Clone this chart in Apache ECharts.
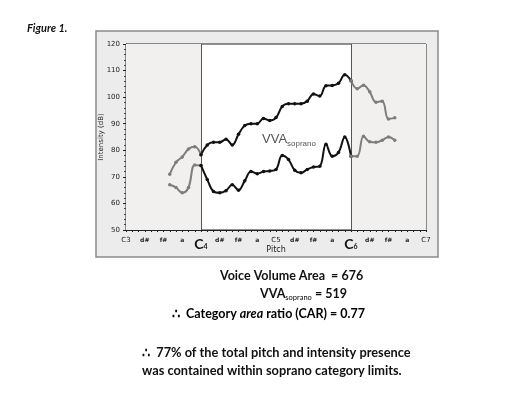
<!DOCTYPE html>
<html>
<head>
<meta charset="utf-8">
<script src="https://cdn.jsdelivr.net/npm/echarts@6/dist/echarts.min.js"></script>
<style>html,body{margin:0;padding:0;background:#fff;}#c{width:527px;height:396px;}</style>
</head>
<body>
<div id="c"></div>
<script>
// Pitch positions are semitones above C3 (C3 = 0, C7 = 48)
const tickLabels = ['C3','d#','f#','a','C4','d#','f#','a','C5','d#','f#','a','C6','d#','f#','a','C7'];
const sopranoLow = 12;   // C4
const sopranoHigh = 36;  // C6

// Upper contour (maximum intensity, dB)
const upperLeftStart = 7;
const upperLeft = [71, 75.5, 77.5, 80.5, 81.3, 78.3];
const upperMidStart = 12;
const upperMid = [78.3, 82, 83, 83, 84.2, 82, 86, 89.3, 90, 90, 92, 91.2, 92.3, 96.5, 97.5, 97.5, 97.5, 98.5, 101.2, 100.4, 104.3, 104.4, 105.2, 108.4, 106.2];
const upperRightStart = 36;
const upperRight = [106.2, 103.2, 104.5, 102, 98.1, 98.5, 91.8, 92.2];

// Lower contour (minimum intensity, dB)
const lowerLeftStart = 7;
const lowerLeft = [67, 66, 64, 66, 74.5, 74.3];
const lowerMidStart = 12;
const lowerMid = [74.3, 69, 64.5, 64, 64.8, 67, 65, 68.5, 72, 71.2, 72, 72.2, 72.8, 78, 76.5, 72.5, 71.5, 72.8, 73.7, 74, 82.3, 77.8, 79.2, 85, 77.8];
const lowerRightStart = 36;
const lowerRight = [77.8, 77.8, 85.3, 83.2, 83, 83.8, 85, 83.8];

function pairs(start, arr) { return arr.map((v, i) => [start + i, v]); }

const chart = echarts.init(document.getElementById('c'), null, {renderer: 'canvas'});

const GRAY = '#7d7d7d';
const BLACK = '#111111';

function lineSeries(name, data, color, extra) {
  return Object.assign({
    name: name,
    type: 'line',
    data: data,
    smooth: 0.4,
    symbol: 'circle',
    symbolSize: 3.5,
    lineStyle: {color: color, width: 2},
    itemStyle: {color: color},
    z: 5,
    silent: true
  }, extra || {});
}

const option = {
  animation: false,
  backgroundColor: '#ffffff',
  grid: {left: 126, right: 101, top: 44, bottom: 166, show: true, borderColor: '#222', borderWidth: 1, backgroundColor: '#ffffff'},
  xAxis: {
    type: 'value', min: 0, max: 48, interval: 1,
    axisLine: {show: true, lineStyle: {color: '#222', width: 1}},
    axisTick: {show: true, length: 2, lineStyle: {color: '#222'}},
    splitLine: {show: false},
    axisLabel: {
      margin: 7,
      interval: 0,
      fontFamily: 'DejaVu Sans', fontSize: 7, color: '#222',
      formatter: function (v) {
        if (v % 3 !== 0) return '';
        const lab = tickLabels[v / 3];
        if (v === sopranoLow) return '{big|C}{sub|4}';
        if (v === sopranoHigh) return '{big|C}{sub|6}';
        if (lab === 'C3' || lab === 'C5' || lab === 'C7') return '{n|' + lab + '}';
        return '{s|' + lab + '}';
      },
      rich: {
        n: {fontFamily: 'DejaVu Sans', fontSize: 7, color: '#222'},
        s: {fontFamily: 'DejaVu Sans', fontSize: 6, fontWeight: 'bold', color: '#222'},
        big: {fontFamily: 'Lato', fontSize: 14, fontWeight: 'bold', color: '#111'},
        sub: {fontFamily: 'Lato', fontSize: 7, fontWeight: 'bold', color: '#111', padding: [5, 0, 0, 0]}
      }
    },
    name: 'Pitch', nameLocation: 'middle', nameGap: 16, nameMoveOverlap: false,
    nameTextStyle: {fontFamily: 'DejaVu Sans', fontSize: 8, color: '#222'}
  },
  yAxis: {
    type: 'value', min: 50, max: 120, interval: 10,
    axisLine: {show: true, lineStyle: {color: '#222', width: 1}},
    axisTick: {show: true, length: 3, lineStyle: {color: '#222'}},
    minorTick: {show: true, splitNumber: 5, length: 2, lineStyle: {color: '#444'}},
    splitLine: {show: false},
    axisLabel: {fontFamily: 'DejaVu Sans', fontSize: 7, color: '#222', margin: 6},
    name: 'Intensity (dB)', nameLocation: 'middle', nameGap: 21, nameRotate: 90, nameMoveOverlap: false,
    nameTextStyle: {fontFamily: 'DejaVu Sans', fontSize: 7, color: '#222'}
  },
  graphic: [
    {type: 'rect', z: -10, shape: {x: 96, y: 31, width: 342, height: 226}, style: {fill: '#ececec', stroke: '#8a8a8a', lineWidth: 1.5}},
    {type: 'text', left: 27, top: 23, style: {text: 'Figure 1.', font: 'italic bold 11px Lato', fill: '#111'}},
    {type: 'text', left: 262, top: 133, z: 10, style: {
      text: '{a|VVA}{b|soprano}',
      rich: {a: {font: '13px "DejaVu Sans"', fill: '#555', fontSize: 13}, b: {font: '8px "DejaVu Sans"', fill: '#555', fontSize: 8, padding: [9, 0, 0, 0]}}
    }},
    {type: 'text', left: 220, top: 269, style: {text: 'Voice Volume Area  = 676', font: 'bold 12.5px Lato', fill: '#111'}},
    {type: 'text', left: 260, top: 287, style: {
      text: '{a|VVA}{b|soprano}{a| = 519}',
      rich: {a: {fontFamily: 'Lato', fontWeight: 'bold', fontSize: 12.5, fill: '#111', color: '#111'}, b: {fontFamily: 'Lato', fontSize: 7.5, color: '#111', padding: [8, 0, 0, 0]}}
    }},
    {type: 'text', left: 172, top: 307, style: {
      text: '{a|∴  Category }{i|area}{a| ratio (CAR) = 0.77}',
      rich: {a: {fontFamily: 'Lato', fontWeight: 'bold', fontSize: 12.5, color: '#111'}, i: {fontFamily: 'Lato', fontStyle: 'italic', fontWeight: 'bold', fontSize: 12.5, color: '#111'}}
    }},
    {type: 'text', left: 142, top: 346, style: {text: '∴  77% of the total pitch and intensity presence', font: 'bold 12.8px Lato', fill: '#111'}},
    {type: 'text', left: 142, top: 364, style: {text: 'was contained within soprano category limits.', font: 'bold 12.8px Lato', fill: '#111'}}
  ],
  series: [
    lineSeries('upperLeft', pairs(upperLeftStart, upperLeft), GRAY, {
      markArea: {silent: true, itemStyle: {color: '#f1f0ef'}, data: [[{xAxis: 0}, {xAxis: sopranoLow}], [{xAxis: sopranoHigh}, {xAxis: 48}]]},
      markLine: {silent: true, symbol: 'none', label: {show: false}, lineStyle: {color: '#555', width: 1, type: 'solid'}, data: [{xAxis: sopranoLow}, {xAxis: sopranoHigh}]}
    }),
    lineSeries('upperMid', pairs(upperMidStart, upperMid), BLACK),
    lineSeries('upperRight', pairs(upperRightStart, upperRight), GRAY),
    lineSeries('lowerLeft', pairs(lowerLeftStart, lowerLeft), GRAY),
    lineSeries('lowerMid', pairs(lowerMidStart, lowerMid), BLACK),
    lineSeries('lowerRight', pairs(lowerRightStart, lowerRight), GRAY)
  ]
};
chart.setOption(option);
</script>
</body>
</html>
